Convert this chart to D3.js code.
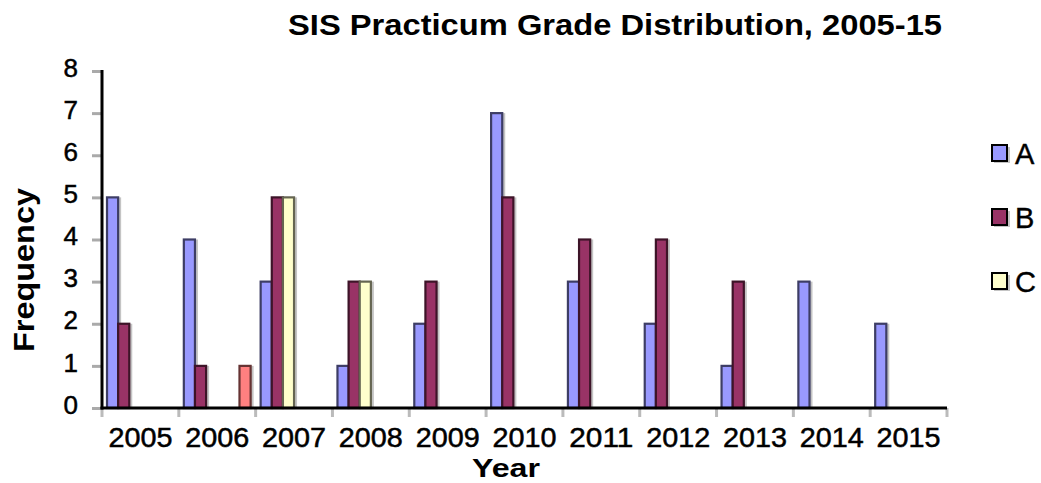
<!DOCTYPE html>
<html>
<head>
<meta charset="utf-8">
<script src="https://cdn.jsdelivr.net/npm/d3@7"></script>
<style>
  html, body { margin: 0; padding: 0; background: #fff; }
  svg { display: block; }
  text { font-family: "Liberation Sans", Arial, sans-serif; fill: #000; }
</style>
</head>
<body>
<svg id="chart" width="1041" height="483"></svg>
<script>
// ---- data ----
const years = ["2005","2006","2007","2008","2009","2010","2011","2012","2013","2014","2015"];
const gradeA = [5, 4, 3, 1, 2, 7, 3, 2, 1, 3, 2];
const gradeB = [2, 1, 5, 3, 3, 5, 4, 4, 3, 0, 0];
const gradeC = [0, 0, 5, 3, 0, 0, 0, 0, 0, 0, 0];
const gradeD = [0, 0, 0, 0, 0, 0, 0, 0, 0, 0, 0];
const gradeE = [0, 0, 0, 0, 0, 0, 0, 0, 0, 0, 0];
const gradeF = [0, 1, 0, 0, 0, 0, 0, 0, 0, 0, 0];
const seriesKeys = ["A", "B", "C", "D", "E", "F"];
const legendKeys = ["A", "B", "C"];
const yTicks = [0, 1, 2, 3, 4, 5, 6, 7, 8];
const titleText = "SIS Practicum Grade Distribution, 2005-15";
const xTitle = "Year";
const yTitle = "Frequency";

const seriesValues = { A: gradeA, B: gradeB, C: gradeC, D: gradeD, E: gradeE, F: gradeF };
const colors = { A: "#9999FF", B: "#993366", C: "#FFFFCC", D: "#CCFFFF", E: "#660066", F: "#FF8080" };

// ---- layout ----
const plotLeft = 102, plotRight = 947, plotTop = 71, plotBottom = 408;
const svg = d3.select("#chart");

const x0 = d3.scaleBand().domain(years).range([plotLeft, plotRight]).paddingInner(0).paddingOuter(0);
const x1 = d3.scaleBand().domain(seriesKeys).range([0, x0.bandwidth()]).paddingInner(0).paddingOuter(0.45);
const y = d3.scaleLinear().domain([0, 8]).range([plotBottom, plotTop]);

// title
svg.append("text")
  .attr("x", 288).attr("y", 35)
  .attr("font-size", 30).attr("font-weight", "bold")
  .attr("textLength", 654).attr("lengthAdjust", "spacingAndGlyphs")
  .text(titleText);

// bars
const data = [];
years.forEach((yr, i) => {
  seriesKeys.forEach(k => {
    const v = seriesValues[k][i];
    if (v > 0) data.push({ year: yr, key: k, value: v });
  });
});

const barG = svg.append("g");
barG.selectAll("rect.shadow").data(data).enter().append("rect")
  .attr("class", "shadow")
  .attr("x", d => x0(d.year) + x1(d.key) + 3)
  .attr("y", d => y(d.value))
  .attr("width", x1.bandwidth())
  .attr("height", d => y(0) - y(d.value))
  .attr("fill", "#c4c4c4");
barG.selectAll("rect.bar").data(data).enter().append("rect")
  .attr("class", "bar")
  .attr("x", d => x0(d.year) + x1(d.key))
  .attr("y", d => y(d.value))
  .attr("width", x1.bandwidth())
  .attr("height", d => y(0) - y(d.value))
  .attr("fill", d => colors[d.key])
  .attr("stroke", d => d3.color(colors[d.key]).darker(2.6))
  .attr("stroke-width", 2.2);

// y axis
const yAxis = d3.axisLeft(y).tickValues(yTicks).tickSize(10).tickPadding(14).tickFormat(d3.format("d"));
const yG = svg.append("g").attr("transform", `translate(${plotLeft},0)`).call(yAxis);
yG.select(".domain").remove();
yG.selectAll(".tick line").attr("stroke", "#aaa").attr("stroke-width", 3);
yG.selectAll(".tick text").attr("font-size", 26).attr("font-family", "Liberation Sans, Arial, sans-serif")
  .attr("dy", "0.2em").attr("fill", "#000").attr("stroke", "#000").attr("stroke-width", 0.5);

// x axis labels
const xAxis = d3.axisBottom(x0).tickSize(0).tickPadding(20);
const xG = svg.append("g").attr("transform", `translate(0,${plotBottom})`).call(xAxis);
xG.select(".domain").remove();
xG.selectAll(".tick text").attr("font-size", 27).attr("font-family", "Liberation Sans, Arial, sans-serif")
  .attr("textLength", 64).attr("lengthAdjust", "spacingAndGlyphs").attr("fill", "#000")
  .attr("stroke", "#000").attr("stroke-width", 0.5);

// x boundary tick marks
const bounds = years.map(yr => x0(yr)).concat([x0(years[years.length - 1]) + x0.bandwidth()]);
svg.append("g").selectAll("line").data(bounds).enter().append("line")
  .attr("x1", d => d).attr("x2", d => d)
  .attr("y1", plotBottom).attr("y2", plotBottom + 9)
  .attr("stroke", "#bbb").attr("stroke-width", 3);

// axis lines
svg.append("line").attr("x1", plotLeft).attr("x2", plotLeft).attr("y1", plotTop - 1).attr("y2", plotBottom + 1.5)
  .attr("stroke", "#000").attr("stroke-width", 3);
svg.append("line").attr("x1", plotLeft - 1.5).attr("x2", plotRight).attr("y1", plotBottom).attr("y2", plotBottom)
  .attr("stroke", "#000").attr("stroke-width", 3);

// axis titles
svg.append("text")
  .attr("x", 506).attr("y", 477)
  .attr("text-anchor", "middle")
  .attr("font-size", 26).attr("font-weight", "bold")
  .attr("textLength", 68).attr("lengthAdjust", "spacingAndGlyphs")
  .text(xTitle);
svg.append("text")
  .attr("transform", "translate(34,270) rotate(-90)")
  .attr("text-anchor", "middle")
  .attr("font-size", 30).attr("font-weight", "bold")
  .attr("textLength", 164).attr("lengthAdjust", "spacingAndGlyphs")
  .text(yTitle);

// legend
const legendY = d3.scalePoint().domain(legendKeys).range([154, 282]);
const lg = svg.append("g").selectAll("g").data(legendKeys).enter().append("g")
  .attr("transform", k => `translate(992,${legendY(k)})`);
lg.append("rect").attr("x", 2).attr("y", -7).attr("width", 16).attr("height", 16).attr("fill", "#c4c4c4");
lg.append("rect").attr("x", 0).attr("y", -9).attr("width", 15).attr("height", 16)
  .attr("fill", k => colors[k]).attr("stroke", "#000").attr("stroke-width", 2);
lg.append("text").attr("x", 23).attr("y", 10).attr("font-size", 29)
  .attr("stroke", "#000").attr("stroke-width", 0.4).text(k => k);
</script>
</body>
</html>
